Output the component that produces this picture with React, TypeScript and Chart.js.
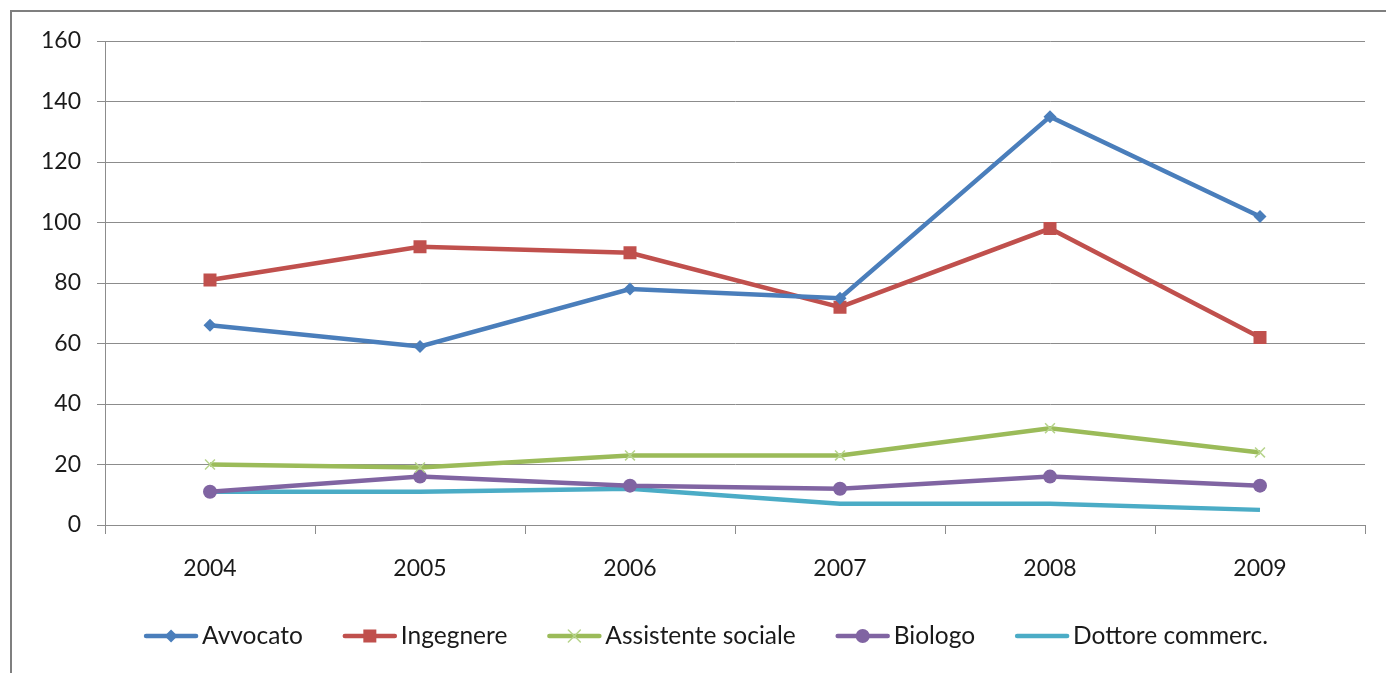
import React, { useEffect, useRef } from "react";
import { Chart, registerables } from "chart.js";

Chart.register(...registerables);

const years = ["2004", "2005", "2006", "2007", "2008", "2009"];
const avvocato = [66, 59, 78, 75, 135, 102];
const ingegnere = [81, 92, 90, 72, 98, 62];
const assistenteSociale = [20, 19, 23, 23, 32, 24];
const biologo = [11, 16, 13, 12, 16, 13];
const dottoreCommerc = [11, 11, 12, 7, 7, 5];
const seriesNames = ["Avvocato", "Ingegnere", "Assistente sociale", "Biologo", "Dottore commerc."];
const yMin = 0;
const yMax = 160;
const yStep = 20;

const FONT = "Lato, 'Open Sans', sans-serif";
const TEXT = "#1a1a1a";
const GRID = "#8c8c8c";

const COLORS = ["#4a7ebb", "#c0504d", "#9bbb59", "#8064a2", "#4bacc6"];
const CROSS = "#b7d48c";

function drawMarker(ctx: CanvasRenderingContext2D, kind: string, x: number, y: number, color: string) {
  ctx.save();
  if (kind === "diamond") {
    ctx.fillStyle = color;
    ctx.beginPath();
    ctx.moveTo(x, y - 6.5);
    ctx.lineTo(x + 6.5, y);
    ctx.lineTo(x, y + 6.5);
    ctx.lineTo(x - 6.5, y);
    ctx.closePath();
    ctx.fill();
  } else if (kind === "square") {
    ctx.fillStyle = color;
    ctx.fillRect(x - 6.5, y - 6.5, 13, 13);
  } else if (kind === "cross") {
    ctx.strokeStyle = CROSS;
    ctx.lineWidth = 1.5;
    ctx.beginPath();
    ctx.moveTo(x - 6, y - 6);
    ctx.lineTo(x + 6, y + 6);
    ctx.moveTo(x + 6, y - 6);
    ctx.lineTo(x - 6, y + 6);
    ctx.stroke();
  } else if (kind === "circle") {
    ctx.fillStyle = color;
    ctx.beginPath();
    ctx.arc(x, y, 7, 0, Math.PI * 2);
    ctx.fill();
  }
  ctx.restore();
}

const MARKERS = ["diamond", "square", "cross", "circle", "none"];

const framePlugin = {
  id: "frame",
  beforeDraw(chart: any) {
    const ctx = chart.ctx;
    ctx.save();
    ctx.fillStyle = "#ffffff";
    ctx.fillRect(0, 0, chart.width, chart.height);
    ctx.strokeStyle = "#7f7f7f";
    ctx.lineWidth = 2;
    ctx.beginPath();
    ctx.moveTo(11, chart.height);
    ctx.lineTo(11, 11);
    ctx.lineTo(chart.width, 11);
    ctx.stroke();
    ctx.restore();
  },
};

const legendPlugin = {
  id: "customLegend",
  afterDraw(chart: any) {
    const ctx = chart.ctx;
    ctx.save();
    ctx.font = `24.5px ${FONT}`;
    const sample = 54;
    const gapText = 4;
    const gapItem = 40;
    const y = 636;
    const widths = chart.data.datasets.map((d: any) => sample + gapText + ctx.measureText(d.label).width);
    const total = widths.reduce((a: number, b: number) => a + b, 0) + gapItem * (widths.length - 1);
    let x = 706 - total / 2;
    chart.data.datasets.forEach((d: any, i: number) => {
      ctx.strokeStyle = d.borderColor;
      ctx.lineWidth = 4.5;
      ctx.lineCap = "round";
      ctx.beginPath();
      ctx.moveTo(x + 2, y);
      ctx.lineTo(x + sample - 2, y);
      ctx.stroke();
      drawMarker(ctx, MARKERS[i], x + sample / 2, y, d.borderColor);
      ctx.fillStyle = TEXT;
      ctx.textBaseline = "middle";
      ctx.textAlign = "left";
      ctx.fillText(d.label, x + sample + gapText, y);
      x += widths[i] + gapItem;
    });
    ctx.restore();
  },
};

export default function App() {
  const ref = useRef<HTMLCanvasElement | null>(null);

  useEffect(() => {
    if (!ref.current) return;
    const values = [avvocato, ingegnere, assistenteSociale, biologo, dottoreCommerc];
    const pointStyles: any[] = ["rectRot", "rect", "crossRot", "circle", "circle"];
    const radii = [6.5, 9.2, 7, 7, 0];
    const datasets = values.map((v, i) => ({
      label: seriesNames[i],
      data: v,
      borderColor: COLORS[i],
      backgroundColor: i === 2 ? CROSS : COLORS[i],
      pointBorderColor: i === 2 ? CROSS : COLORS[i],
      pointBorderWidth: i === 2 ? 1.5 : 0,
      pointStyle: pointStyles[i],
      pointRadius: radii[i],
      pointHoverRadius: radii[i],
      borderWidth: 4.5,
      tension: 0,
      fill: false,
      order: i,
    }));

    const chart = new Chart(ref.current, {
      type: "line",
      data: { labels: years, datasets },
      options: {
        responsive: false,
        animation: false,
        layout: { padding: { top: 41, right: 21, left: 0, bottom: 0 } },
        plugins: {
          legend: { display: false },
          tooltip: { enabled: false },
        },
        scales: {
          x: {
            offset: true,
            grid: {
              offset: true,
              drawOnChartArea: false,
              drawTicks: true,
              tickLength: 9,
              color: GRID,
              lineWidth: 1,
            },
            border: { display: true, color: GRID, width: 1 },
            ticks: { color: TEXT, font: { family: FONT, size: 23 }, padding: 21 },
            afterFit: (s: any) => {
              s.height = 148;
            },
          },
          y: {
            min: yMin,
            max: yMax,
            ticks: { stepSize: yStep, color: TEXT, font: { family: FONT, size: 23 }, padding: 16 },
            grid: { color: GRID, lineWidth: 1, tickLength: 8, drawTicks: true },
            border: { display: true, color: GRID, width: 1 },
            afterFit: (s: any) => {
              s.width = 105;
            },
          },
        },
      },
      plugins: [framePlugin, legendPlugin],
    });
    return () => chart.destroy();
  }, []);

  return (
    <div style={{ position: "fixed", left: 0, top: 0, width: 1386, height: 673, overflow: "hidden", background: "#fff" }}>
      <canvas ref={ref} width={1386} height={673} style={{ display: "block" }} />
    </div>
  );
}
